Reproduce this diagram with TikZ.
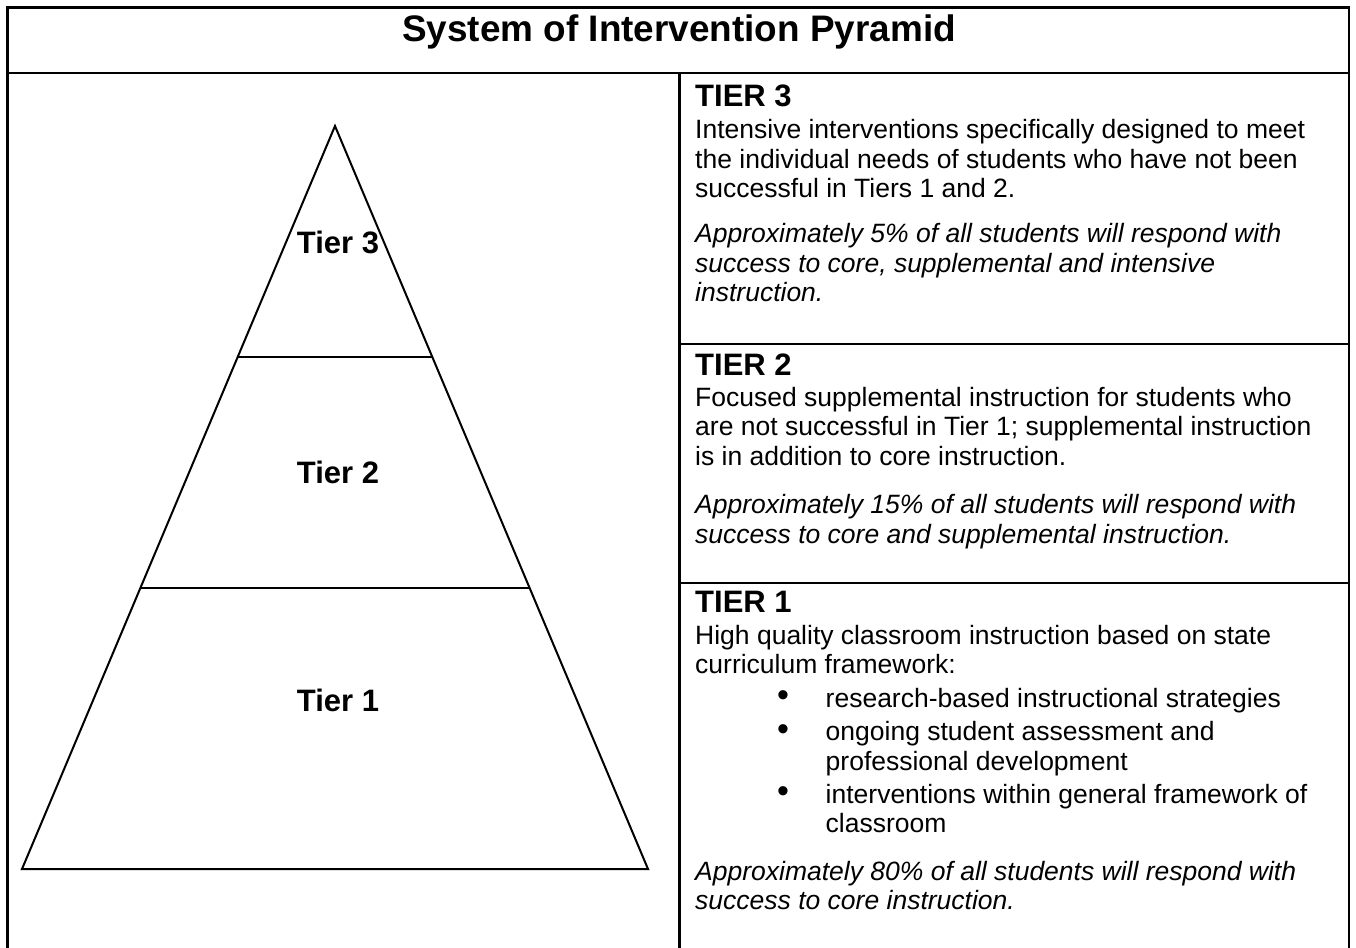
\documentclass[tikz,border=0pt]{standalone}
\usepackage{fontspec}
\setmainfont{Liberation Sans}
\usetikzlibrary{calc}
\tikzset{
  rule/.style={line width=2.2pt, line cap=rect},
  pyr/.style={line width=2pt, line join=miter},
  bodytxt/.style={anchor=base west, inner sep=0pt, font=\fontsize{26.5}{29.5}\selectfont},
  italtxt/.style={bodytxt, font=\fontsize{26.5}{29.5}\selectfont\itshape},
  headtxt/.style={anchor=base west, inner sep=0pt, font=\fontsize{31}{34}\selectfont\bfseries},
  tierlbl/.style={anchor=base, inner sep=0pt, font=\fontsize{31}{34}\selectfont\bfseries},
  bul/.style={anchor=center, inner sep=0pt, font=\fontsize{34}{36}\selectfont},
}
\begin{document}
\begin{tikzpicture}[x=1pt,y=-1pt]
\useasboundingbox (0,0) rectangle (1356,947);
% table frame
\coordinate (fl) at (7.5,947);
\coordinate (ftl) at (7.5,7.5);
\coordinate (ftr) at (1349,7.5);
\coordinate (fr) at (1349,947);
\coordinate (hl) at (7.5,73);
\coordinate (hr) at (1349,73);
\coordinate (dt) at (679.5,73);
\coordinate (db) at (679.5,947);
\coordinate (r2l) at (679.5,344);
\coordinate (r2r) at (1349,344);
\coordinate (r1l) at (679.5,583);
\coordinate (r1r) at (1349,583);
\draw[rule] (fl) -- (ftl) -- (ftr) -- (fr);
\draw[rule] (hl) -- (hr);
\draw[rule] (dt) -- (db);
\draw[rule] (r2l) -- (r2r);
\draw[rule] (r1l) -- (r1r);
% title
\node[anchor=base west, inner sep=0pt, font=\fontsize{36.9}{40}\selectfont\bfseries] (title) at (402,41.5) {System of Intervention Pyramid};
% pyramid
\coordinate (apex) at (335,126);
\coordinate (bl) at (22,869);
\coordinate (br) at (648,869);
\draw[pyr] (apex) -- (bl) -- (br) -- cycle;
\coordinate (a3l) at ($(apex)!{231/743}!(bl)$);
\coordinate (a3r) at ($(apex)!{231/743}!(br)$);
\coordinate (a2l) at ($(apex)!{462/743}!(bl)$);
\coordinate (a2r) at ($(apex)!{462/743}!(br)$);
\draw[pyr] (a3l) -- (a3r);
\draw[pyr] (a2l) -- (a2r);
\node[tierlbl] (lt3) at (338,253) {Tier 3};
\node[tierlbl] (lt2) at (338,483) {Tier 2};
\node[tierlbl] (lt1) at (338,711) {Tier 1};
% Tier 3 text
\node[headtxt] (h3) at (695,106.5) {TIER 3};
\node[bodytxt] (b3a) at (695,138.5) {Intensive interventions specifically designed to meet};
\node[bodytxt] (b3b) at (695,168) {the individual needs of students who have not been};
\node[bodytxt] (b3c) at (695,197.5) {successful in Tiers 1 and 2.};
\node[italtxt] (i3a) at (695,242.5) {Approximately 5\% of all students will respond with};
\node[italtxt] (i3b) at (695,272) {success to core, supplemental and intensive};
\node[italtxt] (i3c) at (695,301.5) {instruction.};
% Tier 2 text
\node[headtxt] (h2) at (695,375.5) {TIER 2};
\node[bodytxt] (b2a) at (695,406) {Focused supplemental instruction for students who};
\node[bodytxt] (b2b) at (695,435.5) {are not successful in Tier 1; supplemental instruction};
\node[bodytxt] (b2c) at (695,465) {is in addition to core instruction.};
\node[italtxt] (i2a) at (695,513.5) {Approximately 15\% of all students will respond with};
\node[italtxt] (i2b) at (695,543) {success to core and supplemental instruction.};
% Tier 1 text
\node[headtxt] (h1) at (695,612) {TIER 1};
\node[bodytxt] (b1a) at (695,644) {High quality classroom instruction based on state};
\node[bodytxt] (b1b) at (695,673) {curriculum framework:};
\node[bul] (d1) at (783,699) {•};
\node[bodytxt] (l1) at (825.5,707) {research-based instructional strategies};
\node[bul] (d2) at (783,732.5) {•};
\node[bodytxt] (l2a) at (825.5,740.5) {ongoing student assessment and};
\node[bodytxt] (l2b) at (825.5,770) {professional development};
\node[bul] (d3) at (783,795) {•};
\node[bodytxt] (l3a) at (825.5,803) {interventions within general framework of};
\node[bodytxt] (l3b) at (825.5,832.5) {classroom};
\node[italtxt] (i1a) at (695,880) {Approximately 80\% of all students will respond with};
\node[italtxt] (i1b) at (695,909.5) {success to core instruction.};
\end{tikzpicture}
\end{document}
